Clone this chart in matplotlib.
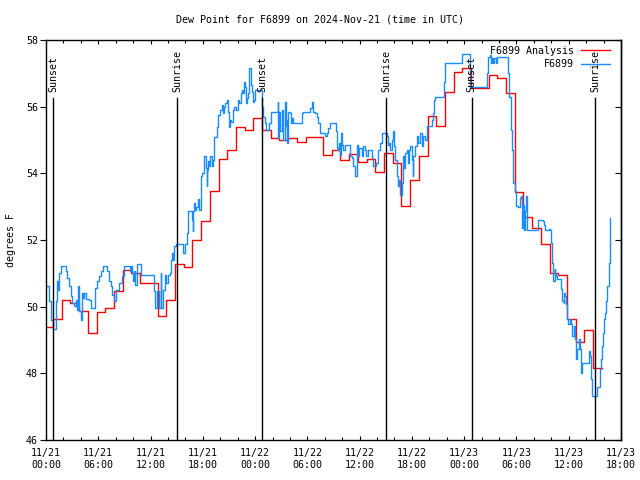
import numpy as np
import pandas as pd
import matplotlib
matplotlib.use("Agg")
import matplotlib.pyplot as plt
import matplotlib.dates as mdates

# station / titolo
station = "F6899"
title = "Dew Point for F6899 on 2024-Nov-21 (time in UTC)"
base = pd.Timestamp("2024-11-21 00:00")

# analisi oraria (cambia a hh:48 circa), gradi F
ana_dewpt = [49.40, 49.62, 50.19, 50.12, 49.86, 49.22, 49.83, 49.95, 50.47, 51.11,
             51.00, 50.72, 50.72, 49.72, 50.19, 51.28, 51.20, 51.99, 52.56, 53.46,
             54.43, 54.71, 55.40, 55.31, 55.65, 55.31, 55.06, 55.00, 55.06, 54.94,
             55.09, 55.09, 54.54, 54.71, 54.41, 54.59, 54.34, 54.43, 54.04, 54.61,
             54.30, 53.03, 53.81, 54.51, 55.72, 55.42, 56.45, 57.03, 57.15, 56.57,
             56.57, 56.96, 56.86, 56.40, 53.44, 52.69, 52.36, 51.88, 51.01, 50.95,
             49.62, 48.95, 49.31, 48.17]
ana_first_hour = -0.2

# osservazioni (ore dall'inizio, gradi F) - righe allineate
obs_hours = [
    0.0, 0.34, 0.54, 0.84, 1.11, 1.22, 1.38, 1.49, 1.76, 2.33,
    2.45, 2.64, 2.83, 3.02, 3.21, 3.41, 3.60, 3.71, 3.79, 3.98,
    4.09, 4.29, 4.36, 4.55, 4.94, 5.13, 5.59, 5.89, 6.08, 6.28,
    6.58, 7.04, 7.23, 7.42, 7.62, 7.81, 8.0, 8.38, 8.76, 8.96,
    9.64, 9.8, 9.91, 10.03, 10.1, 10.18, 10.41, 10.87, 12.4, 12.48,
    12.78, 12.97, 13.16, 13.24, 13.47, 13.62, 13.74, 14.0, 14.24, 14.39,
    14.5, 14.62, 14.7, 14.89,
    15.77, 15.96, 16.23, 16.34, 16.72, 16.85, 16.92, 17.0, 17.1, 17.2,
    17.49, 17.6, 17.76, 17.9, 18.14, 18.33, 18.45, 18.52, 18.6, 18.7,
    18.83, 19.02, 19.15, 19.29, 19.6, 19.79, 19.95, 20.17, 20.28, 20.4,
    20.55, 20.74, 20.86, 20.95, 21.05, 21.15, 21.24, 21.43, 21.6, 21.81,
    22.08, 22.2, 22.35, 22.46, 22.6, 22.73, 22.85, 22.96, 23.05, 23.23,
    23.35, 23.54, 23.65, 23.73, 23.85, 24.0, 24.84, 24.95, 25.1, 25.26,
    25.64, 25.79,
    26.6, 26.68, 26.79, 26.87, 27.06, 27.25, 27.44, 27.51, 27.63, 27.71,
    27.82, 28.0, 28.13, 28.25, 28.39, 29.35, 29.5, 30.31, 30.5, 30.61,
    30.88, 31.08, 31.27, 31.46, 32.03, 32.3, 32.42, 32.61, 33.29, 33.45,
    33.56, 33.68, 33.75, 33.83, 33.94, 34.14, 34.33, 34.9, 35.1, 35.29,
    35.48, 35.74, 35.86, 35.97, 36.24, 36.43, 36.62, 36.74, 37.01, 37.39,
    37.58, 37.89, 38.08, 38.15, 38.35, 38.54, 39.11, 39.23, 39.42, 39.5,
    39.69, 39.8, 39.95, 40.07, 40.26, 40.37, 40.57, 40.64, 40.83, 40.95,
    41.1, 41.22, 41.41, 41.52, 41.71, 41.79, 41.98, 42.1, 42.17, 42.36,
    42.56, 42.75, 42.94, 43.13, 43.32, 43.51, 43.71, 44.28, 44.39, 44.55,
    44.66, 45.73, 45.81,
    47.72, 48.68, 50.67, 50.78, 51.0, 51.1, 51.2, 51.35, 51.45, 51.6,
    51.75, 53.0, 53.1, 53.2, 53.35, 53.46, 53.57, 53.66, 53.85, 53.9,
    54.23, 54.35, 54.5, 54.61, 54.69, 54.8, 54.88, 54.99, 55.11, 55.19,
    55.26, 56.45, 56.52, 56.91, 57.05, 57.18, 57.29, 57.68, 57.87, 57.95,
    58.06, 58.17, 58.25, 58.37, 58.44, 58.56, 58.63, 59.13, 59.21, 59.4,
    59.47, 59.59, 59.7, 59.78, 59.97, 60.09, 60.24, 60.35, 60.62, 60.73,
    60.85, 60.93, 61.23, 61.31, 61.39, 61.5, 62.34, 62.46, 62.54, 62.65,
    63.22, 63.61, 63.72, 63.8, 63.91, 64.07, 64.18, 64.3, 64.45, 64.57,
    64.68, 64.75,
]
obs_dewpt = [
    50.63, 50.16, 49.61, 49.32, 50.16, 50.76, 50.51, 51.01, 51.21, 51.06,
    50.86, 50.61, 50.31, 50.11, 50.01, 50.21, 49.91, 50.61, 49.86, 49.61,
    50.41, 50.26, 50.41, 50.23, 50.19, 49.96, 50.56, 50.76, 50.91, 51.06,
    51.21, 51.06, 50.76, 50.61, 50.36, 50.16, 50.51, 50.71, 50.91, 51.21,
    51.06, 51.21, 51.01, 50.76, 51.06, 50.66, 51.28, 50.96, 50.46, 49.96,
    50.46, 49.96, 51.01, 49.96, 50.51, 50.96, 50.71, 50.96, 51.01, 51.41,
    51.61, 51.41, 51.81, 51.89,
    51.61, 51.89, 52.21, 52.86, 52.61, 52.26, 52.86, 53.11, 52.91, 53.00,
    53.23, 52.91, 53.91, 54.01, 54.51, 54.16, 53.61, 54.11, 54.36, 54.21,
    54.51, 54.21, 54.41, 55.10, 55.40, 55.75, 55.90, 56.05, 55.80, 56.00,
    56.10, 56.20, 55.85, 55.60, 55.40, 55.60, 55.55, 55.90, 56.00, 55.90,
    56.20, 56.10, 56.40, 56.50, 56.40, 56.75, 56.60, 56.10, 56.25, 56.40,
    57.15, 56.65, 56.45, 56.15, 56.20, 56.50, 56.00, 55.70, 55.50, 55.31,
    55.50, 55.85,
    56.15, 55.06, 55.85, 55.26, 55.90, 55.01, 56.15, 55.41, 55.61, 54.91,
    55.85, 55.80, 55.50, 55.66, 55.50, 55.80, 55.85, 55.95, 56.15, 55.85,
    55.80, 55.70, 55.50, 55.21, 55.13, 55.21, 55.36, 55.50, 55.26, 54.76,
    54.71, 54.91, 54.56, 55.21, 54.86, 54.71, 54.86, 54.51, 54.46, 54.21,
    53.91, 54.86, 54.51, 54.76, 54.51, 54.81, 54.71, 54.51, 54.71, 54.46,
    54.21, 54.31, 54.56, 54.71, 54.91, 55.21, 55.11, 54.86, 54.91, 54.71,
    55.01, 55.26, 54.81, 54.41, 53.91, 53.61, 53.81, 53.36, 53.71, 54.51,
    54.16, 54.61, 54.71, 54.31, 54.71, 54.81, 54.41, 53.91, 54.51, 54.81,
    55.11, 54.91, 55.21, 54.81, 55.11, 55.01, 55.41, 55.61, 55.80, 56.20,
    56.30, 56.75, 57.30,
    57.58, 56.60, 57.00, 57.50, 57.55, 57.30, 57.45, 57.30, 57.45, 57.30,
    57.50, 57.00, 56.70, 56.30, 55.30, 54.70, 54.21, 53.71, 53.46, 53.01,
    52.99, 53.26, 53.31, 52.91, 52.36, 53.06, 52.31, 52.86, 53.31, 52.81,
    52.31, 52.46, 52.61, 52.59, 52.56, 52.46, 52.31, 52.33, 52.29, 51.92,
    51.32, 51.12, 50.77, 51.12, 51.02, 50.92, 50.82, 50.52, 50.17, 50.12,
    50.42, 50.32, 50.07, 49.62, 49.47, 49.62, 49.47, 49.12, 49.42, 49.02,
    48.42, 48.72, 49.02, 48.72, 48.02, 48.32, 48.67, 48.52, 47.82, 47.32,
    47.60, 48.12, 48.42, 48.82, 49.22, 49.62, 49.82, 50.17, 50.62, 51.32,
    52.02, 52.66,
]

# alba / tramonto (ore UTC dall'inizio)
sun_labels = ["Sunset", "Sunrise", "Sunset", "Sunrise", "Sunset", "Sunrise"]
sun_hours = [0.85, 15.05, 24.85, 39.07, 48.87, 63.07]

y_ticks = [46, 48, 50, 52, 54, 56, 58]

RED = "#FF0000"
BLUE = "#1A8CFF"
FONT = "DejaVu Sans Mono"
FS = 7.2

plt.rcParams["font.family"] = FONT
plt.rcParams["font.size"] = FS


def to_time(hours):
    return base + pd.to_timedelta(np.asarray(hours, dtype=float), unit="h")


ana_hours = ana_first_hour + np.arange(len(ana_dewpt) + 1)
ana_vals = np.append(ana_dewpt, ana_dewpt[-1])

fig = plt.figure(figsize=(6.4, 4.8), dpi=100)
ax = fig.add_axes([46 / 640, 40 / 480, 575 / 640, 400 / 480])

ax.plot(to_time(ana_hours), ana_vals, drawstyle="steps-post", color=RED, lw=1.0,
        label=f"{station} Analysis")
ax.plot(to_time(obs_hours), obs_dewpt, drawstyle="steps-post", color=BLUE, lw=1.0,
        label=station)

# linee alba / tramonto con etichetta verticale
for lab, h in zip(sun_labels, sun_hours):
    t = to_time([h])[0]
    ax.plot([t, t], [46, 56.26], color="black", lw=1.0)
    ax.text(t, 56.44, lab, rotation=90, ha="center", va="bottom", fontsize=FS)

ax.set_xlim(to_time([0])[0], to_time([66])[0])
ax.set_ylim(46, 58)
ax.set_yticks(y_ticks)

ax.xaxis.set_major_locator(mdates.HourLocator(byhour=[0, 6, 12, 18]))
ax.xaxis.set_minor_locator(mdates.HourLocator(interval=2))
ax.xaxis.set_major_formatter(mdates.DateFormatter("%m/%d\n%H:%M"))

# asse x: tacche verso l'interno, sopra e sotto
ax.tick_params(axis="x", which="both", direction="in", top=True, labelsize=FS, width=0.8, pad=6)
ax.tick_params(axis="x", which="major", length=3.0)
ax.tick_params(axis="x", which="minor", length=2.0)
# asse y sinistro: tacche verso l'esterno
ax.tick_params(axis="y", direction="out", length=4.3, width=0.8, pad=1.5, labelsize=FS)
# asse y destro: tacche verso l'interno, senza etichette
sec = ax.secondary_yaxis("right")
sec.set_yticks(y_ticks)
sec.tick_params(direction="in", length=4.3, width=0.8, labelright=False)
for s in list(ax.spines.values()) + list(sec.spines.values()):
    s.set_linewidth(1.0)

ax.set_ylabel("degrees F", fontsize=FS, labelpad=7)
fig.text(0.5, 1 - 19 / 480, title, ha="center", va="center", fontsize=FS)

ax.legend(loc="upper right", bbox_to_anchor=(0.981, 0.985), frameon=False,
          markerfirst=False, handlelength=2.9, handletextpad=0.7,
          labelspacing=0.35, borderpad=0, borderaxespad=0, fontsize=FS)

fig.savefig("out.png", dpi=100)
plt.close(fig)
